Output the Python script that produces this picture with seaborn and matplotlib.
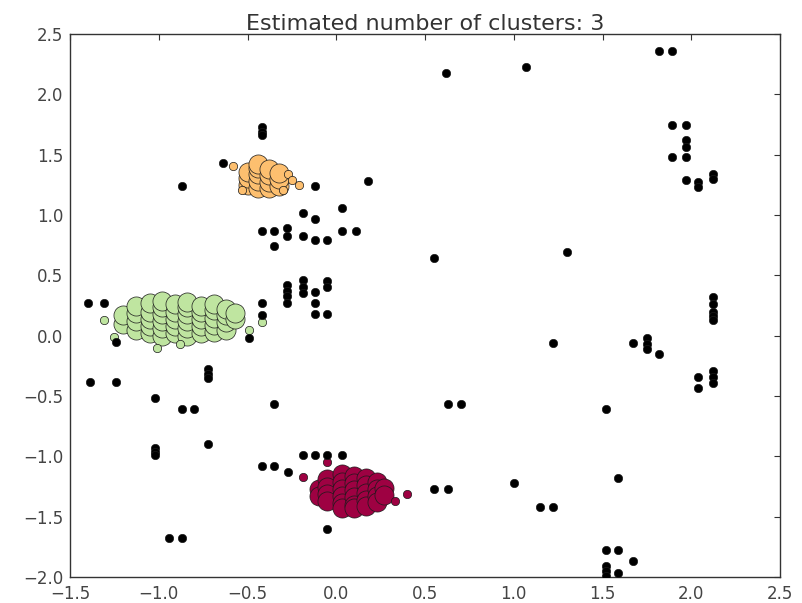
import numpy as np
import pandas as pd
import matplotlib
matplotlib.use("Agg")
import matplotlib.pyplot as plt
import seaborn as sns

# ---- data -------------------------------------------------------------
# cluster 0 (dark red) core samples
red_core_x = [-0.10, -0.10, -0.05, -0.05, -0.05, -0.05,
              0.03, 0.03, 0.03, 0.03, 0.03, 0.03,
              0.10, 0.10, 0.10, 0.10, 0.10, 0.10,
              0.17, 0.17, 0.17, 0.17, 0.17,
              0.23, 0.23, 0.23, 0.23, 0.27, 0.27]
red_core_y = [-1.27, -1.33, -1.19, -1.25, -1.31, -1.37,
              -1.15, -1.21, -1.27, -1.33, -1.39, -1.43,
              -1.16, -1.22, -1.28, -1.34, -1.40, -1.43,
              -1.18, -1.24, -1.30, -1.36, -1.41,
              -1.21, -1.27, -1.33, -1.38, -1.26, -1.32]
red_edge_x = [-0.19, -0.05, 0.40, 0.33]
red_edge_y = [-1.17, -1.05, -1.31, -1.37]

# cluster 1 (orange) core samples
orange_core_x = [-0.50, -0.50, -0.50, -0.44, -0.44, -0.44, -0.44, -0.44,
                 -0.38, -0.38, -0.38, -0.38, -0.32, -0.32, -0.32]
orange_core_y = [1.25, 1.31, 1.36, 1.22, 1.28, 1.34, 1.39, 1.42,
                 1.22, 1.27, 1.33, 1.38, 1.24, 1.30, 1.35]
orange_edge_x = [-0.58, -0.53, -0.27, -0.25, -0.21, -0.30]
orange_edge_y = [1.41, 1.21, 1.34, 1.29, 1.25, 1.21]

# cluster 2 (light green) core samples
green_core_x = [-1.20, -1.20,
                -1.13, -1.13, -1.13, -1.13,
                -1.05, -1.05, -1.05, -1.05, -1.05,
                -0.98, -0.98, -0.98, -0.98, -0.98, -0.98,
                -0.91, -0.91, -0.91, -0.91, -0.91,
                -0.84, -0.84, -0.84, -0.84, -0.84, -0.84,
                -0.76, -0.76, -0.76, -0.76, -0.76,
                -0.69, -0.69, -0.69, -0.69, -0.69,
                -0.62, -0.62, -0.62, -0.62,
                -0.57, -0.57]
green_core_y = [0.10, 0.17,
                0.05, 0.12, 0.19, 0.25,
                0.02, 0.08, 0.14, 0.20, 0.27,
                0.00, 0.06, 0.12, 0.18, 0.24, 0.29,
                0.02, 0.08, 0.14, 0.20, 0.26,
                0.00, 0.06, 0.12, 0.18, 0.24, 0.28,
                0.02, 0.08, 0.14, 0.20, 0.25,
                0.03, 0.09, 0.15, 0.21, 0.26,
                0.05, 0.11, 0.17, 0.22,
                0.14, 0.19]
green_edge_x = [-1.31, -1.25, -1.01, -0.49, -0.42, -0.88]
green_edge_y = [0.13, -0.01, -0.10, 0.05, 0.11, -0.07]

# noise points (black)
noise_x = [0.62, 1.07, 1.82, 1.89, 1.89, 1.97, 1.97, 1.97, 1.89, 1.97, 1.97,
           2.04, 2.04, 2.12, 2.12,
           2.12, 2.12, 2.12, 2.12, 2.12,
           1.22, 1.67, 1.75, 1.75, 1.75, 1.82, 2.04, 2.04, 2.12, 2.12, 2.12,
           0.63, 0.70, 1.52, 1.00, 0.55, 0.63, 1.15, 1.22, 1.59,
           1.52, 1.59, 1.67, 1.52, 1.52, 1.52, 1.59,
           1.30, 0.55,
           -0.42, -0.42, -0.42, -0.64, -0.87, -0.12, 0.18, -0.19, -0.12, 0.03,
           -0.42, -0.35, -0.28, -0.28, 0.03, 0.11, -0.35, -0.19, -0.12, -0.05,
           -0.28, -0.28, -0.28, -0.19, -0.19, -0.19, -0.12, -0.05, -0.05,
           -1.40, -1.31, -0.42, -0.42, -0.28, -0.12, -0.12, -0.05,
           -0.49, -1.24, -1.39, -1.24, -0.72, -0.72, -0.72,
           -1.02, -0.87, -0.80, -0.35, -0.72, -1.02, -1.02, -1.02,
           -0.19, -0.12, -0.05, 0.03, -0.42, -0.35, -0.27, -0.05, -0.94, -0.87]
noise_y = [2.18, 2.23, 2.36, 2.36, 1.75, 1.75, 1.62, 1.56, 1.48, 1.48, 1.29,
           1.27, 1.23, 1.34, 1.30,
           0.32, 0.26, 0.20, 0.16, 0.13,
           -0.06, -0.06, -0.02, -0.07, -0.11, -0.15, -0.34, -0.43, -0.29, -0.34, -0.39,
           -0.57, -0.57, -0.61, -1.22, -1.27, -1.27, -1.42, -1.42, -1.18,
           -1.78, -1.78, -1.87, -1.91, -1.95, -1.99, -1.97,
           0.69, 0.64,
           1.73, 1.69, 1.66, 1.43, 1.24, 1.24, 1.28, 1.02, 0.97, 1.06,
           0.87, 0.87, 0.89, 0.83, 0.87, 0.87, 0.74, 0.83, 0.79, 0.79,
           0.42, 0.37, 0.33, 0.46, 0.40, 0.35, 0.36, 0.45, 0.40,
           0.27, 0.27, 0.27, 0.17, 0.27, 0.27, 0.18, 0.18,
           -0.02, -0.05, -0.38, -0.38, -0.28, -0.32, -0.35,
           -0.52, -0.61, -0.61, -0.57, -0.90, -0.93, -0.96, -0.99,
           -0.99, -0.99, -0.99, -0.99, -1.08, -1.08, -1.13, -1.60, -1.68, -1.68]

title = "Estimated number of clusters: 3"
x_ticks = [-1.5, -1.0, -0.5, 0.0, 0.5, 1.0, 1.5, 2.0, 2.5]
y_ticks = [-2.0, -1.5, -1.0, -0.5, 0.0, 0.5, 1.0, 1.5, 2.0, 2.5]

# ---- table -------------------------------------------------------------
def block(xs, ys, label, core):
    return pd.DataFrame({"x": xs, "y": ys, "label": label, "core": core})

df = pd.concat([
    block(red_core_x, red_core_y, 0, True),
    block(red_edge_x, red_edge_y, 0, False),
    block(orange_core_x, orange_core_y, 1, True),
    block(orange_edge_x, orange_edge_y, 1, False),
    block(green_core_x, green_core_y, 2, True),
    block(green_edge_x, green_edge_y, 2, False),
    block(noise_x, noise_y, -1, False),
], ignore_index=True)

# ---- plot --------------------------------------------------------------
sns.set_theme(style="white")
plt.rcParams["font.family"] = ["DejaVu Sans"]

fig = plt.figure(figsize=(8.02, 6.03), dpi=100)
ax = fig.add_axes([70 / 802, 1 - 577 / 603, 710 / 802, 543 / 603])

spectral = plt.cm.Spectral(np.linspace(0, 1, 4))
colors = {0: spectral[0], 1: spectral[1], 2: spectral[2], -1: (0, 0, 0, 1)}

big = 14 ** 2 * (100 / 72) ** 2 / 2.0
small = 6 ** 2 * (100 / 72) ** 2 / 1.93

for lab in [0, 1, 2, -1]:
    sub = df[df.label == lab]
    core = sub[sub.core]
    edge = sub[~sub.core]
    if len(core):
        sns.scatterplot(data=core, x="x", y="y", ax=ax, color=colors[lab],
                        s=big, edgecolor="k", linewidth=0.5,
                        legend=False, zorder=3)
    if len(edge):
        sns.scatterplot(data=edge, x="x", y="y", ax=ax, color=colors[lab],
                        s=small, edgecolor="k", linewidth=0.5,
                        legend=False, zorder=3)

ax.set_xlim(-1.5, 2.5)
ax.set_ylim(-2.0, 2.5)
ax.set_xticks(x_ticks)
ax.set_yticks(y_ticks)
ax.set_xticklabels([f"{t:.1f}".replace("-", "\u2212") for t in x_ticks])
ax.set_yticklabels([f"{t:.1f}".replace("-", "\u2212") for t in y_ticks])
ax.set_xlabel("")
ax.set_ylabel("")
ax.tick_params(direction="in", top=True, right=True, length=4, width=0.8,
               labelsize=12, colors="#333333", labelcolor="#444444")
ax.tick_params(axis="x", pad=6)
ax.tick_params(axis="y", pad=5)
for sp in ax.spines.values():
    sp.set_color("#333333")
    sp.set_linewidth(1.0)
ax.set_title(title, fontsize=16, color="#333333", pad=3)

fig.savefig("out.png", dpi=100, facecolor="white")
